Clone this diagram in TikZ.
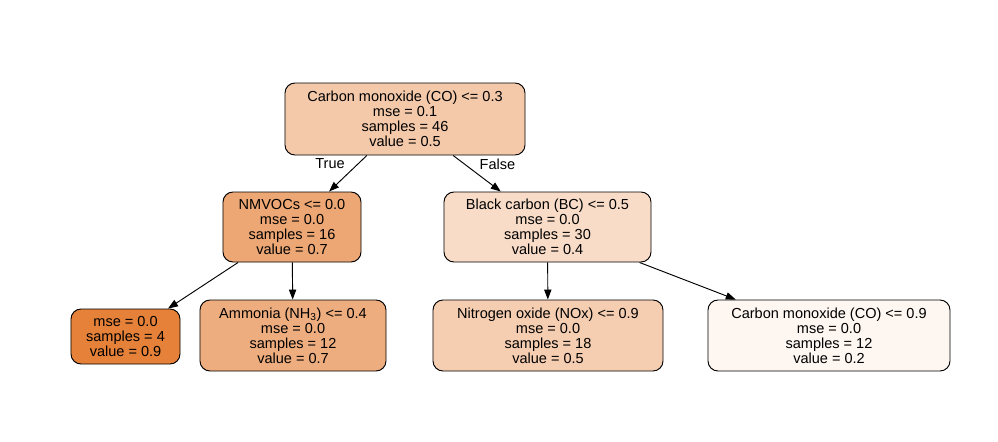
\documentclass[tikz,border=0pt]{standalone}
\usepackage{fontspec}
\setmainfont{Liberation Sans}
\usetikzlibrary{arrows.meta, positioning}
\definecolor{treeorange}{RGB}{229,129,57}

\begin{document}
\begin{tikzpicture}[x=0.03cm,y=-0.03cm,
  treenode/.style={draw, rounded corners=0.3cm, line width=0.8pt, align=center, inner sep=0pt,
    font=\fontsize{12.4}{12.8}\selectfont},
  edge/.style={-{Triangle[length=0.3cm,width=0.22cm]}, line width=0.8pt},
  edgelabel/.style={font=\fontsize{12.4}{12.8}\selectfont}]
\useasboundingbox (0,0) rectangle (998,441);

% root split
\node[treenode, fill=treeorange!43!white, minimum width=7.2cm, minimum height=2.16cm] (root) at (405,119)
  {Carbon monoxide (CO) <= 0.3\\mse = 0.1\\samples = 46\\value = 0.5};

% second level
\node[treenode, fill=treeorange!70!white, minimum width=4.14cm, minimum height=2.1cm] (nmvocs) at (292,227)
  {NMVOCs <= 0.0\\mse = 0.0\\samples = 16\\value = 0.7};
\node[treenode, fill=treeorange!28!white, minimum width=6.21cm, minimum height=2.1cm] (blackcarbon) at (547.5,227)
  {Black carbon (BC) <= 0.5\\mse = 0.0\\samples = 30\\value = 0.4};

% third level
\node[treenode, fill=treeorange, minimum width=3.27cm, minimum height=1.65cm] (leaf) at (125.5,336.5)
  {mse = 0.0\\samples = 4\\value = 0.9};
\node[treenode, fill=treeorange!65!white, minimum width=5.58cm, minimum height=2.13cm] (ammonia) at (293,335.5)
  {Ammonia (NH\textsubscript{3}) <= 0.4\\mse = 0.0\\samples = 12\\value = 0.7};
\node[treenode, fill=treeorange!40!white, minimum width=6.9cm, minimum height=2.13cm] (nitrogen) at (548,335.5)
  {Nitrogen oxide (NOx) <= 0.9\\mse = 0.0\\samples = 18\\value = 0.5};
\node[treenode, fill=treeorange!7!white, minimum width=7.26cm, minimum height=2.13cm] (carbonright) at (829,335.5)
  {Carbon monoxide (CO) <= 0.9\\mse = 0.0\\samples = 12\\value = 0.2};

% connectors
\draw[edge] (root) -- (nmvocs);
\draw[edge] (root) -- (blackcarbon);
\draw[edge] (nmvocs) -- (leaf);
\draw[edge] (nmvocs) -- (ammonia);
\draw[edge] (blackcarbon) -- (nitrogen);
\draw[edge] (blackcarbon) -- (carbonright);

\node[edgelabel] (truelbl) at (330,164) {True};
\node[edgelabel] (falselbl) at (497.5,164) {False};
\end{tikzpicture}
\end{document}
